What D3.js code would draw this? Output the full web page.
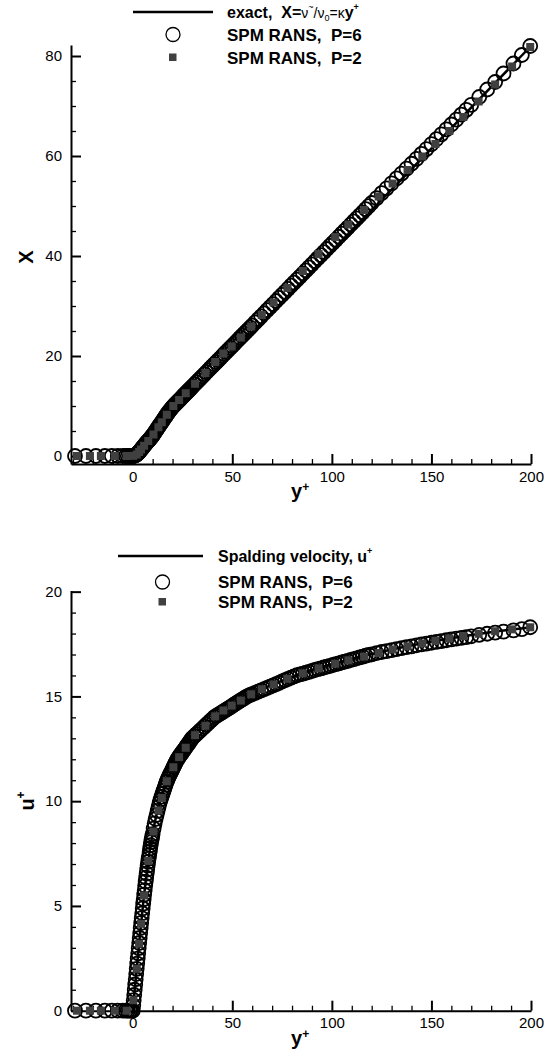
<!DOCTYPE html>
<html>
<head>
<meta charset="utf-8">
<script src="https://cdn.jsdelivr.net/npm/d3@7"></script>
<style>
  body { margin: 0; background: #fff; }
  text { font-family: "Liberation Sans", Arial, Helvetica, sans-serif; fill: #000; }
</style>
</head>
<body>
<svg id="chart" width="553" height="1057"></svg>
<script>
// ---- data ----
// SPM RANS, P=6 : wall-normal coordinate y+ of the nodes
var p6Yp = [-29, -23.5, -18.5, -14, -10.5, -7.5, -5, -3.5, -2.5, -1.5, -0.75,
  0, 0.25, 0.5, 0.75, 1, 1.25, 1.5, 1.75, 2, 2.25, 2.5, 2.75, 3, 3.25, 3.5, 3.75, 4, 4.25, 4.5, 4.75,
  5, 5.25, 5.5, 5.75, 6, 6.25, 6.5, 6.75, 7, 7.25, 7.5, 7.75, 8, 8.25, 8.5, 8.75, 9, 9.25, 9.5, 9.75, 10,
  10.5, 11, 11.5, 12, 12.5, 13, 13.5, 14, 14.5, 15, 15.5, 16, 16.5, 17, 17.5, 18, 18.5, 19, 19.5, 20,
  20.5, 21, 21.5, 22, 22.5, 23, 23.5, 24, 24.5, 25, 25.5, 26, 26.5, 27, 27.5, 28, 28.5, 29, 29.5, 30,
  31, 32, 33, 34, 35, 36, 37, 38, 39, 40, 41, 42, 43, 44, 45, 46, 47, 48, 49, 50,
  51, 52, 53, 54, 55, 56, 57, 58, 59, 60,
  61.5, 63, 64.5, 66, 67.5, 69, 70.5, 72, 73.5, 75, 76.5, 78, 79.5, 81, 82.5, 84, 85.5, 87, 88.5, 90,
  91.5, 93, 94.5, 96, 97.5, 99, 100.5, 102, 103.5, 105, 106.5, 108, 109.5, 111, 112.5, 114, 115.5, 117, 118.5, 120,
  122.5, 125, 127.5, 130, 132.5, 135, 137.5, 140, 142.5, 145, 147.5, 150, 152.5, 155, 157.5, 160, 162.5, 165, 167.5, 170,
  174, 178, 182, 186.2, 191.2, 195.4, 199.6];
// P=6 : X = nu~/nu0
var p6X = [0, 0, 0, 0, 0, 0, 0, 0, 0, 0, 0,
  0, 0.02, 0.05, 0.08, 0.1, 0.14, 0.2, 0.25, 0.3, 0.4, 0.5, 0.6, 0.7, 0.82, 0.95, 1.07, 1.2, 1.32, 1.45, 1.57,
  1.7, 1.82, 1.95, 2.07, 2.2, 2.32, 2.45, 2.57, 2.7, 2.8, 2.9, 3.0, 3.1, 3.22, 3.35, 3.47, 3.6, 3.72, 3.85, 3.97, 4.1,
  4.39, 4.69, 4.98, 5.28, 5.57, 5.86, 6.16, 6.45, 6.74, 7.04, 7.33, 7.63, 7.92, 8.21, 8.51, 8.8, 9.05, 9.3, 9.55, 9.8,
  10.0, 10.21, 10.42, 10.62, 10.83, 11.03, 11.24, 11.44, 11.65, 11.85, 12.06, 12.26, 12.47, 12.67, 12.88, 13.08, 13.29, 13.49, 13.7, 13.9,
  14.31, 14.71, 15.12, 15.53, 15.93, 16.34, 16.75, 17.15, 17.56, 17.97, 18.37, 18.78, 19.19, 19.59, 20.0, 20.41, 20.81, 21.22, 21.63, 22.03,
  22.44, 22.85, 23.25, 23.66, 24.07, 24.47, 24.88, 25.29, 25.69, 26.1,
  26.71, 27.32, 27.94, 28.55, 29.16, 29.77, 30.38, 31.0, 31.61, 32.22, 32.83, 33.44, 34.06, 34.67, 35.28, 35.89, 36.5, 37.12, 37.73, 38.34,
  38.95, 39.56, 40.18, 40.79, 41.4, 42.01, 42.62, 43.24, 43.85, 44.46, 45.07, 45.68, 46.3, 46.91, 47.52, 48.13, 48.74, 49.36, 49.97, 50.6,
  51.58, 52.56, 53.54, 54.53, 55.51, 56.49, 57.47, 58.45, 59.43, 60.41, 61.39, 62.38, 63.36, 64.34, 65.32, 66.3, 67.28, 68.26, 69.24, 70.23,
  71.8, 73.3, 74.8, 76.5, 78.5, 80.2, 82.0];
// P=6 : u+
var p6U = [0, 0, 0, 0, 0, 0, 0, 0, 0, 0, 0,
  0, 0.25, 0.5, 0.75, 1, 1.25, 1.5, 1.75, 2, 2.25, 2.49, 2.74, 2.99, 3.23, 3.47, 3.71, 3.95, 4.19, 4.42, 4.65,
  4.88, 5.11, 5.32, 5.54, 5.75, 5.96, 6.16, 6.35, 6.54, 6.73, 6.92, 7.1, 7.26, 7.42, 7.58, 7.74, 7.9, 8.05, 8.17, 8.3, 8.43,
  8.69, 8.94, 9.15, 9.34, 9.54, 9.73, 9.92, 10.08, 10.22, 10.36, 10.5, 10.64, 10.78, 10.92, 11.04, 11.14, 11.24, 11.34, 11.43, 11.53,
  11.63, 11.73, 11.83, 11.92, 12.01, 12.08, 12.15, 12.22, 12.28, 12.35, 12.42, 12.48, 12.55, 12.62, 12.69, 12.75, 12.82, 12.89, 12.96, 13.02,
  13.11, 13.2, 13.29, 13.38, 13.47, 13.56, 13.65, 13.74, 13.83, 13.92, 14.01, 14.07, 14.13, 14.19, 14.25, 14.31, 14.37, 14.43, 14.49, 14.55,
  14.62, 14.68, 14.74, 14.8, 14.86, 14.92, 14.98, 15.03, 15.07, 15.11,
  15.17, 15.23, 15.29, 15.35, 15.41, 15.47, 15.53, 15.59, 15.65, 15.72, 15.78, 15.84, 15.9, 15.96, 16.01, 16.05, 16.09, 16.13, 16.17, 16.22,
  16.26, 16.3, 16.34, 16.38, 16.42, 16.46, 16.5, 16.54, 16.58, 16.62, 16.66, 16.7, 16.74, 16.78, 16.82, 16.86, 16.9, 16.94, 16.98, 17.01,
  17.07, 17.12, 17.16, 17.21, 17.26, 17.3, 17.35, 17.39, 17.44, 17.48, 17.52, 17.56, 17.6, 17.64, 17.68, 17.72, 17.76, 17.79, 17.83, 17.87,
  17.94, 17.99, 18.04, 18.09, 18.15, 18.21, 18.3];

// SPM RANS, P=2
var p2Yp = [-28, -21.5, -16, -9, -3, 0.3, 2, 3.2, 4.2, 5.7, 7.8, 10.4, 12.9, 14.6, 17.1,
  20.4, 23.3, 26.6, 31.3, 36.5, 41.4, 45.5, 49.7, 54.3, 59.5, 64.8, 70.7, 77.7, 85.4, 93.3,
  101.7, 108.3, 116.2, 123.5, 130.5, 138, 145.4, 152, 159, 166, 173.7, 182, 190.5, 199.6];
var p2X = [0, 0, 0, 0, 0, 0.03, 0.3, 0.8, 1.3, 2.05, 3.0, 4.3, 5.75, 6.75, 8.25,
  10.0, 11.2, 12.55, 14.45, 16.6, 18.8, 20.5, 21.9, 23.7, 25.9, 28.2, 30.7, 33.6, 37.0, 40.4,
  43.8, 46.3, 49.2, 51.9, 54.5, 57.2, 59.9, 62.4, 65.0, 67.8, 70.9, 74.3, 77.9, 81.8];
var p2U = [0, 0, 0, 0, 0, 0.5, 2.0, 3.2, 4.15, 5.5, 7.15, 8.55, 9.56, 10.15, 10.95,
  11.62, 12.1, 12.55, 13.15, 13.6, 14.05, 14.33, 14.56, 14.8, 15.1, 15.34, 15.57, 15.84, 16.1, 16.34,
  16.56, 16.72, 16.9, 17.07, 17.24, 17.39, 17.53, 17.66, 17.77, 17.88, 17.99, 18.11, 18.2, 18.3];

// exact line X = kappa y+
var exactYp = [0, 200];
var exactX = [0, 82];
// Spalding velocity profile
var spaldYp = [0, 1, 2, 3, 4.05, 5.12, 6.29, 7.6, 9.16, 11.11, 13.7, 17.28, 22.39, 29.83, 40.86, 57.33, 82, 119.2, 175.2, 200];
var spaldU = [0, 1, 2, 3, 4, 5, 6, 7, 8, 9, 10, 11, 12, 13, 14, 15, 16, 17, 18, 18.3];

// ticks
var xMajor = [0, 50, 100, 150, 200];
var xMinor = [-30, -20, -10, 10, 20, 30, 40, 60, 70, 80, 90, 110, 120, 130, 140, 160, 170, 180, 190];
var xTopMajor = [0, 20, 40, 60, 80];
var xTopMinor = [5, 10, 15, 25, 30, 35, 45, 50, 55, 65, 70, 75];
var uMajor = [0, 5, 10, 15, 20];
var uMinor = [1, 2, 3, 4, 6, 7, 8, 9, 11, 12, 13, 14, 16, 17, 18, 19];

var svg = d3.select("#chart");

function drawPanel(opt) {
  var x = d3.scaleLinear().domain([-31, 200]).range([71, 531]);
  var y = d3.scaleLinear().domain(opt.yDomain).range(opt.yRange);
  var g = svg.append("g");
  var axisY = opt.yRange[0];

  // minor ticks first
  var xm = g.append("g").attr("transform", "translate(0," + axisY + ")")
    .call(d3.axisBottom(x).tickValues(xMinor).tickSize(-5).tickFormat(""));
  xm.select(".domain").remove();
  var ym = g.append("g").attr("transform", "translate(71,0)")
    .call(d3.axisLeft(y).tickValues(opt.yMinor).tickSize(-5).tickFormat(""));
  ym.select(".domain").remove();
  g.selectAll("line").attr("stroke", "#000").attr("stroke-width", 1.3);

  var xa = g.append("g").attr("transform", "translate(0," + axisY + ")")
    .call(d3.axisBottom(x).tickValues(xMajor).tickSizeInner(-10).tickSizeOuter(0).tickPadding(7));
  var ya = g.append("g").attr("transform", "translate(71,0)")
    .call(d3.axisLeft(y).tickValues(opt.yMajor).tickSizeInner(-10).tickSizeOuter(0).tickPadding(9));
  [xa, ya].forEach(function(a) {
    a.select(".domain").attr("stroke", "#000").attr("stroke-width", 2);
    a.selectAll(".tick line").attr("stroke", "#000").attr("stroke-width", 2);
    a.selectAll(".tick text").attr("font-size", 15).attr("font-family", null).style("fill", "#000");
  });

  // line
  var line = d3.line().x(function(d) { return x(d[0]); }).y(function(d) { return y(d[1]); })
    .curve(opt.curve || d3.curveLinear);
  g.append("path")
    .datum(d3.zip(opt.lineX, opt.lineY))
    .attr("d", line)
    .attr("fill", "none")
    .attr("stroke", "#000")
    .attr("stroke-width", 2.5);

  // P=6 circles
  g.append("g").selectAll("circle")
    .data(d3.zip(p6Yp, opt.p6))
    .enter().append("circle")
    .attr("cx", function(d) { return x(d[0]); })
    .attr("cy", function(d) { return y(d[1]); })
    .attr("r", 7)
    .attr("fill", "none")
    .attr("stroke", "#000")
    .attr("stroke-width", 1.8);

  // P=2 squares
  g.append("g").selectAll("rect")
    .data(d3.zip(p2Yp, opt.p2))
    .enter().append("rect")
    .attr("x", function(d) { return x(d[0]) - 4; })
    .attr("y", function(d) { return y(d[1]) - 4; })
    .attr("width", 8)
    .attr("height", 8)
    .attr("fill", "#404040");

  // axis titles
  var yl = g.append("text")
    .attr("transform", "translate(" + opt.ylab[0] + "," + opt.ylab[1] + ") rotate(-90)")
    .attr("font-size", 20).attr("font-weight", "bold")
    .attr("text-anchor", "middle");
  yl.append("tspan").text(opt.yTitle);
  if (opt.yTitleSup) {
    yl.append("tspan").attr("font-size", 12).attr("dy", -9).text("+");
  }
  var xl = g.append("text")
    .attr("x", 291).attr("y", axisY + 34)
    .attr("font-size", 20).attr("font-weight", "bold");
  xl.append("tspan").text("y");
  xl.append("tspan").attr("font-size", 12).attr("dy", -7).text("+");

  // legend
  var lg = g.append("g");
  var L = opt.legend;
  lg.append("line")
    .attr("x1", L.x1).attr("x2", L.x2).attr("y1", L.rows[0] - 5.5).attr("y2", L.rows[0] - 5.5)
    .attr("stroke", "#000").attr("stroke-width", 2.5);
  lg.append("circle")
    .attr("cx", L.mx).attr("cy", L.rows[1] - 6).attr("r", 7)
    .attr("fill", "none").attr("stroke", "#000").attr("stroke-width", 1.3);
  lg.append("rect")
    .attr("x", L.mx - 4).attr("y", L.rows[2] - 10).attr("width", 7.5).attr("height", 7.5)
    .attr("fill", "#404040");
  var t0 = lg.append("text").attr("x", L.tx).attr("y", L.rows[0])
    .attr("font-size", 16).attr("font-weight", "bold").style("white-space", "pre");
  L.first(t0);
  ["SPM RANS,  P=6", "SPM RANS,  P=2"].forEach(function(s, i) {
    lg.append("text").attr("x", L.tx).attr("y", L.rows[i + 1])
      .attr("font-size", 17).attr("font-weight", "bold").style("white-space", "pre")
      .text(s);
  });
}

// top panel: X vs y+
drawPanel({
  yDomain: [-1.6, 82.2], yRange: [464, 45],
  yMajor: xTopMajor, yMinor: xTopMinor,
  lineX: exactYp, lineY: exactX,
  p6: p6X, p2: p2X,
  yTitle: "X", ylab: [33, 257],
  legend: {
    x1: 133, x2: 213, mx: 173, tx: 227, rows: [17.5, 40.5, 63.5],
    first: function(t) {
      t.append("tspan").text("exact,  X=");
      t.append("tspan").attr("font-weight", "normal").attr("font-size", 14).text("\u03BD");
      t.append("tspan").attr("font-weight", "normal").attr("font-size", 9).attr("dy", -8).text("~");
      t.append("tspan").attr("font-weight", "normal").attr("font-size", 14).attr("dy", 8).text("/\u03BD");
      t.append("tspan").attr("font-weight", "normal").attr("font-size", 9).attr("dy", 3).text("0");
      t.append("tspan").attr("font-weight", "normal").attr("font-size", 14).attr("dy", -3).text("=\u03BA");
      t.append("tspan").text("y");
      t.append("tspan").attr("font-size", 9).attr("dy", -8).text("+");
    }
  }
});

// bottom panel: u+ vs y+
drawPanel({
  yDomain: [0, 20.05], yRange: [1010.7, 590.6],
  yMajor: uMajor, yMinor: uMinor,
  lineX: spaldYp, lineY: spaldU, curve: d3.curveMonotoneX,
  p6: p6U, p2: p2U,
  yTitle: "u", yTitleSup: true, ylab: [34, 801],
  legend: {
    x1: 118, x2: 203, mx: 162.5, tx: 218, rows: [561.5, 588, 608],
    first: function(t) {
      t.append("tspan").text("Spalding velocity, u");
      t.append("tspan").attr("font-size", 9).attr("dy", -8).text("+");
    }
  }
});
</script>
</body>
</html>
